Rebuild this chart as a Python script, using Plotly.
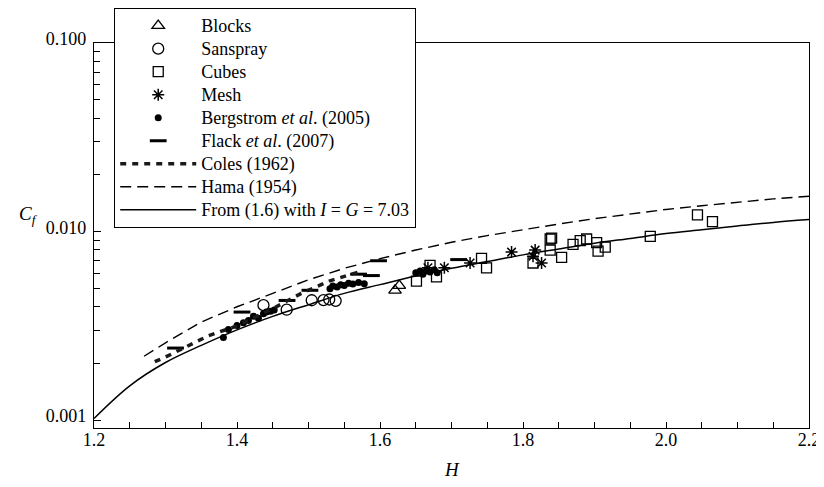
import plotly.graph_objects as go

# ---------------- data ----------------
blocks_H = [1.621, 1.627]
blocks_Cf = [0.00488, 0.00517]

sanspray_H = [1.437, 1.4695, 1.5045, 1.521, 1.529, 1.538]
sanspray_Cf = [0.00407, 0.00385, 0.00432, 0.00433, 0.00436, 0.00429]

cubes_H = [1.651, 1.670, 1.679, 1.742, 1.749, 1.814, 1.838, 1.840, 1.838, 1.854,
           1.870, 1.880, 1.889, 1.903, 1.905, 1.915, 1.978, 2.044, 2.065]
cubes_Cf = [0.00546, 0.00662, 0.00575, 0.00720, 0.00642, 0.00681, 0.00913, 0.00923, 0.00797, 0.00729,
            0.00855, 0.00894, 0.00913, 0.00874, 0.00787, 0.00826, 0.00942, 0.01225, 0.01128]

mesh_H = [1.667, 1.690, 1.726, 1.784, 1.814, 1.817, 1.826]
mesh_Cf = [0.00642, 0.00642, 0.00681, 0.00778, 0.00739, 0.00797, 0.00681]

berg_H = [1.381, 1.388, 1.400, 1.409, 1.416, 1.423, 1.430, 1.437, 1.441, 1.447, 1.452,
          1.530, 1.534, 1.540, 1.545, 1.550, 1.556, 1.562, 1.570, 1.578,
          1.650, 1.656, 1.660, 1.665, 1.670, 1.676, 1.680]
berg_Cf = [0.00274, 0.00302, 0.00317, 0.00328, 0.00337, 0.00355, 0.00347, 0.00366, 0.00374, 0.00378, 0.00383,
           0.00498, 0.00515, 0.00508, 0.00522, 0.00517, 0.00532, 0.00527, 0.00536, 0.00529,
           0.00604, 0.00618, 0.00594, 0.00623, 0.00611, 0.00628, 0.00604]

flack_H = [1.314, 1.407, 1.470, 1.502, 1.570, 1.588, 1.598, 1.710]
flack_Cf = [0.00241, 0.00374, 0.00431, 0.00488, 0.00594, 0.00584, 0.00700, 0.00710]

coles_H = [1.285, 1.30, 1.33, 1.36, 1.40, 1.45, 1.49, 1.53, 1.57]
coles_Cf = [0.00204, 0.00216, 0.00246, 0.00280, 0.00316, 0.00390, 0.00470, 0.00548, 0.00610]

hama_H = [1.27, 1.30, 1.35, 1.40, 1.45, 1.50, 1.55, 1.60, 1.65, 1.70, 1.75,
          1.80, 1.85, 1.90, 1.95, 2.00, 2.05, 2.10, 2.15, 2.20]
hama_Cf = [0.00218, 0.00257, 0.00331, 0.00399, 0.00470, 0.00555, 0.00638, 0.00718, 0.00798, 0.00877, 0.00952,
           0.01026, 0.01096, 0.01170, 0.01240, 0.01310, 0.01370, 0.01430, 0.01490, 0.01540]

eq_H = [1.20, 1.25, 1.30, 1.35, 1.40, 1.45, 1.50, 1.55, 1.60, 1.65, 1.70,
        1.75, 1.80, 1.85, 1.90, 1.95, 2.00, 2.05, 2.10, 2.15, 2.20]
eq_Cf = [0.00102, 0.00152, 0.00202, 0.00249, 0.00301, 0.00355, 0.00409, 0.00470, 0.00523, 0.00581, 0.00638,
         0.00693, 0.00752, 0.00808, 0.00867, 0.00919, 0.00975, 0.01022, 0.01071, 0.01118, 0.01157]

x_ticks = [1.2, 1.4, 1.6, 1.8, 2.0, 2.2]
x_ticktext = ["1.2", "1.4", "1.6", "1.8", "2.0", "2.2"]
y_ticks = [0.001, 0.01, 0.1]
y_ticktext = ["0.001", "0.010", "0.100"]

# ---------------- figure ----------------
FONT = "Liberation Serif"
LEG_TXT = '<span style="font-size:18px">{}</span>'
fig = go.Figure()

def mk(name, xs, ys, symbol, size, lw=1.3):
    fig.add_trace(go.Scatter(
        x=xs, y=ys, mode="markers", name=LEG_TXT.format(name),
        marker=dict(symbol=symbol, size=size, color="black",
                    line=dict(color="black", width=lw)),
    ))

mk("Blocks", blocks_H, blocks_Cf, "triangle-up-open", 11)
mk("Sanspray", sanspray_H, sanspray_Cf, "circle-open", 11)
mk("Cubes", cubes_H, cubes_Cf, "square-open", 10)
mk("Mesh", mesh_H, mesh_Cf, "asterisk-open", 10, lw=1.5)
fig.add_trace(go.Scatter(x=berg_H, y=berg_Cf, mode="markers",
                         name=LEG_TXT.format("Bergstrom <i>et al</i>. (2005)"),
                         marker=dict(symbol="circle", size=7, color="black")))
mk("Flack <i>et al</i>. (2007)", flack_H, flack_Cf, "line-ew-open", 12, lw=3)

fig.add_trace(go.Scatter(x=coles_H, y=coles_Cf, mode="lines", name=LEG_TXT.format("Coles (1962)"),
                         line=dict(color="#1a1a1a", width=3.5, dash="6px,6px")))
fig.add_trace(go.Scatter(x=hama_H, y=hama_Cf, mode="lines", name=LEG_TXT.format("Hama (1954)"),
                         line=dict(color="black", width=1.4, dash="11px,6px")))
fig.add_trace(go.Scatter(x=eq_H, y=eq_Cf, mode="lines", line_shape="spline",
                         name=LEG_TXT.format("From (1.6) with <i>I</i> = <i>G</i> = 7.03"),
                         line=dict(color="black", width=1.5)))

y_minor = [m * 10 ** e for e in (-3, -2) for m in range(2, 10)]

fig.update_layout(
    width=824, height=487,
    margin=dict(l=86, r=23, t=35, b=67, autoexpand=False),
    paper_bgcolor="white", plot_bgcolor="white",
    font=dict(family=FONT, size=18, color="black"),
    showlegend=True,
    legend=dict(x=0.028, y=1.091, xanchor="left", yanchor="top",
                bordercolor="black", borderwidth=1.2, bgcolor="white",
                itemwidth=76, maxheight=400,
                font=dict(family=FONT, size=15.4, color="black"),
                tracegroupgap=0),
    xaxis=dict(range=[1.2, 2.2], tickmode="array", tickvals=x_ticks, ticktext=x_ticktext,
               ticks="inside", ticklen=6, tickcolor="black", tickwidth=1,
               showline=True, linecolor="black", linewidth=1.2, mirror=True,
               showgrid=False, zeroline=False, ticklabelstandoff=-5,
               minor=dict(ticks="inside", ticklen=6, tickcolor="black", dtick=0.05, showgrid=False)),
    yaxis=dict(type="log", range=[-3.042, -1], tickmode="array", tickvals=y_ticks, ticktext=y_ticktext,
               ticks="inside", ticklen=7, tickcolor="black", tickwidth=1,
               showline=True, linecolor="black", linewidth=1.2, mirror=True,
               showgrid=False, zeroline=False, ticklabelstandoff=3, ticklabelshift=-4,
               minor=dict(ticks="inside", ticklen=6, tickcolor="black", tickmode="array",
                          tickvals=y_minor, showgrid=False)),
    annotations=[
        dict(text="<i>C<sub>f</sub></i>", xref="paper", yref="paper", x=-0.092, y=0.553,
             xanchor="center", yanchor="middle", showarrow=False,
             font=dict(family=FONT, size=19)),
        dict(text="<i>H</i>", xref="paper", yref="paper", x=0.5, y=-0.109,
             xanchor="center", yanchor="middle", showarrow=False,
             font=dict(family=FONT, size=19)),
    ],
)

fig.write_html("out.html")
